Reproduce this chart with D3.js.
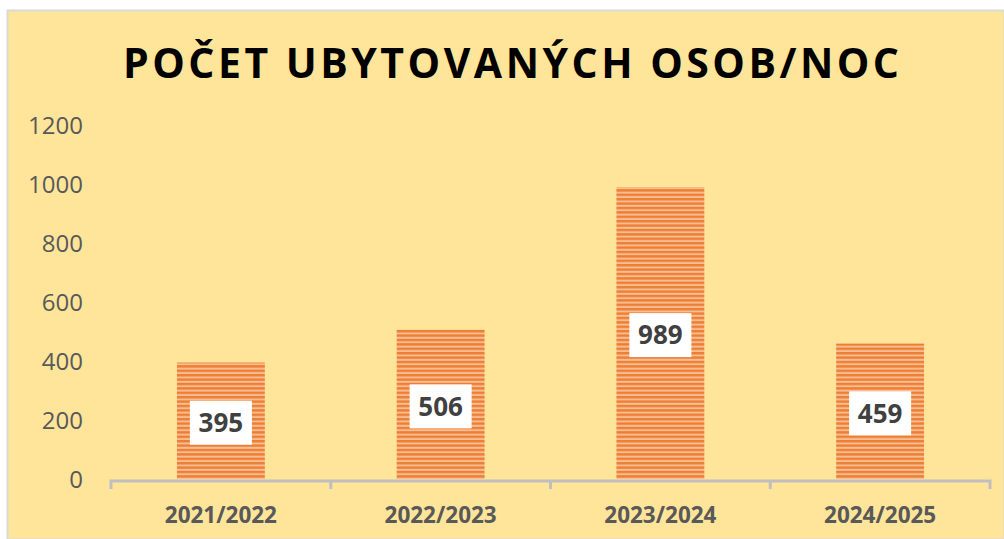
<!DOCTYPE html>
<html lang="cs">
<head>
    <meta charset="UTF-8">
    <title>Počet ubytovaných osob/noc</title>
    <script src="https://cdn.jsdelivr.net/npm/d3@7"></script>
    <style>
        body{
            margin: 0;
            background: white;
        }
        .yAxis text{
            font-family: "Open Sans", sans-serif;
            font-size: 24px;
            fill: #595959;
        }
        .yAxis path, .yAxis line{
            display: none;
        }
        .xAxis text{
            font-family: "Open Sans", sans-serif;
            font-size: 22.5px;
            font-weight: bold;
            fill: #595959;
        }
        .xAxis path, .xAxis line{
            stroke: #BFBFBF;
            stroke-width: 3;
        }
    </style>
</head>
<body>
<svg id="main" width="1004" height="539"></svg>
<script>
    const seasons = ['2021/2022','2022/2023','2023/2024','2024/2025']
    const guests = [395, 506, 989, 459]
    const yTicks = [0, 200, 400, 600, 800, 1000, 1200]

    const width = 1004, height = 539
    const margin = {top: 125, bottom: 60, left: 111, right: 14}

    const svg = d3.select('svg#main')

    // background panel
    svg.append('rect')
        .attr('x', 7.5).attr('y', 10.5)
        .attr('width', width - 7).attr('height', height - 10)
        .attr('fill', '#FFE599')
        .attr('stroke', '#D9D9D9')
        .attr('stroke-width', 2)

    // striped fill for bars
    const defs = svg.append('defs')
    const pat = defs.append('pattern')
        .attr('id', 'stripes')
        .attr('patternUnits', 'userSpaceOnUse')
        .attr('width', 8).attr('height', 4.4)
    pat.append('rect').attr('width', 8).attr('height', 4.4).attr('fill', '#F7BE93')
    pat.append('rect').attr('width', 8).attr('height', 2.4).attr('fill', '#EE7E33')

    const xScale = d3.scaleBand()
        .domain(seasons)
        .range([margin.left, width - margin.right])
        .paddingInner(0.6).paddingOuter(0.3)
    const yScale = d3.scaleLinear()
        .domain([0, 1200])
        .range([height - margin.bottom, margin.top])

    // title
    svg.append('text')
        .attr('x', 511).attr('y', 78)
        .attr('text-anchor', 'middle')
        .attr('font-family', '"Open Sans", sans-serif')
        .attr('font-weight', 'bold')
        .attr('font-size', 41)
        .attr('textLength', 776)
        .attr('lengthAdjust', 'spacing')
        .attr('fill', '#000')
        .text('POČET UBYTOVANÝCH OSOB/NOC')

    // y axis labels only
    svg.append('g')
        .attr('class', 'yAxis')
        .attr('transform', `translate(${margin.left - 18},0)`)
        .call(d3.axisLeft(yScale).tickValues(yTicks).tickFormat(d3.format('d')).tickSize(0).tickPadding(10))
        .selectAll('text').attr('dy', '0.36em')

    // bars
    const bars = svg.append('g').selectAll('.bar')
        .data(seasons)
        .enter().append('g')
        .attr('class', 'bar')
    bars.append('rect')
        .attr('x', d => xScale(d))
        .attr('y', (d, i) => yScale(guests[i]))
        .attr('width', xScale.bandwidth())
        .attr('height', (d, i) => yScale(0) - yScale(guests[i]))
        .attr('fill', 'url(#stripes)')

    // x axis with category boundary ticks
    const xAxis = svg.append('g')
        .attr('class', 'xAxis')
        .attr('transform', `translate(0,${yScale(0) + 2})`)
    xAxis.append('path')
        .attr('d', `M${margin.left},${8}V0H${width - margin.right}V${8}`)
        .attr('fill', 'none')
    const step = (width - margin.right - margin.left) / seasons.length
    xAxis.selectAll('.bound')
        .data(d3.range(1, seasons.length))
        .enter().append('line')
        .attr('x1', i => margin.left + i * step).attr('x2', i => margin.left + i * step)
        .attr('y1', 0).attr('y2', 8)
    xAxis.selectAll('.lbl')
        .data(seasons)
        .enter().append('text')
        .attr('x', d => xScale(d) + xScale.bandwidth() / 2)
        .attr('y', 42)
        .attr('text-anchor', 'middle')
        .text(d => d)

    // value labels
    const labels = bars.append('g')
        .attr('transform', (d, i) => `translate(${xScale(d) + xScale.bandwidth() / 2},${(yScale(guests[i]) + yScale(0)) / 2 + 2})`)
    labels.append('rect')
        .attr('x', -31).attr('y', -22)
        .attr('width', 62).attr('height', 44)
        .attr('fill', 'white')
    labels.append('text')
        .attr('text-anchor', 'middle')
        .attr('dy', '0.36em')
        .attr('font-family', '"Open Sans", sans-serif')
        .attr('font-weight', 'bold')
        .attr('font-size', 26)
        .attr('fill', '#404040')
        .text((d, i) => guests[i])
</script>
</body>
</html>
